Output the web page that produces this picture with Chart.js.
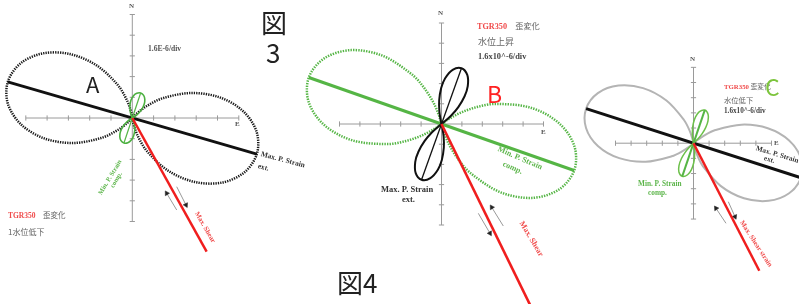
<!DOCTYPE html>
<html><head><meta charset="utf-8">
<script src="https://cdn.jsdelivr.net/npm/chart.js@4.4.1/dist/chart.umd.min.js"></script>
<style>
html,body{margin:0;padding:0;background:#fff;}
#wrap{position:relative;width:799px;height:304px;overflow:hidden;background:#fff;}
canvas{position:absolute;left:0;top:0;}
.t{position:absolute;white-space:nowrap;line-height:1;}
.s{font-family:"Liberation Serif","DejaVu Serif",serif;font-weight:bold;color:#555;}
.r{color:#f04a4a;}
.g{color:#5cb54a;}
.d{color:#333;}
.k{font-family:"Noto Sans CJK JP",sans-serif;color:#666;}
.big{font-family:"Noto Sans CJK JP","Noto Sans",sans-serif;color:#222;}
.rot{transform-origin:0 50%;}
</style></head>
<body><div id="wrap">
<canvas id="cA" width="799" height="304"></canvas>
<canvas id="cB" width="799" height="304"></canvas>
<canvas id="cC" width="799" height="304"></canvas>

<!-- Panel A texts -->
<div class="t s" style="left:129px;top:3px;font-size:7px;">N</div>
<div class="t s" style="left:235px;top:121px;font-size:7px;">E</div>
<div class="t s" style="left:148px;top:45px;font-size:7.6px;">1.6E-6/div</div>
<div class="t big" style="left:86px;top:72px;font-size:22px;">A</div>
<div class="t big" style="left:261px;top:8.5px;font-size:26px;">図</div>
<div class="t big" style="left:266px;top:39px;font-size:26px;">3</div>
<div class="t s r" style="left:8px;top:211px;font-size:7.5px;">TGR350<span class="k r" style="font-weight:normal;">　歪変化</span></div>
<div class="t k" style="left:8px;top:228px;font-size:8px;">1水位低下</div>
<div class="t s d rot" style="left:261px;top:150px;font-size:7.4px;transform:rotate(15deg);">Max. P. Strain</div>
<div class="t s d rot" style="left:258px;top:162px;font-size:7.4px;transform:rotate(15deg);">ext.</div>
<div class="t s g rot" style="left:100px;top:191px;font-size:6.6px;transform:rotate(-59deg);">Min. P. Strain</div>
<div class="t s g rot" style="left:112px;top:184px;font-size:6.6px;transform:rotate(-59deg);">comp.</div>
<div class="t s r rot" style="left:196px;top:209px;font-size:7px;transform:rotate(60deg);">Max. Shear</div>

<!-- Panel B texts -->
<div class="t s" style="left:438px;top:10px;font-size:7px;">N</div>
<div class="t s" style="left:541px;top:129px;font-size:7px;">E</div>
<div class="t s r" style="left:477px;top:21px;font-size:8.2px;">TGR350<span class="k r" style="font-weight:normal;">　歪変化</span></div>
<div class="t k" style="left:478px;top:37px;font-size:9px;">水位上昇</div>
<div class="t s" style="left:478px;top:53px;font-size:8.4px;color:#444;">1.6x10^-6/div</div>
<div class="t big" style="left:487px;top:81.5px;font-size:23px;color:#f22;">B</div>
<div class="t big" style="left:337px;top:268.5px;font-size:26px;">図4</div>
<div class="t s d" style="left:381px;top:185px;font-size:8.5px;">Max. P. Strain</div>
<div class="t s d" style="left:402px;top:195px;font-size:8.5px;">ext.</div>
<div class="t s g rot" style="left:498px;top:145px;font-size:8px;transform:rotate(23deg);">Min. P. Strain</div>
<div class="t s g rot" style="left:503px;top:160px;font-size:8px;transform:rotate(23deg);">comp.</div>
<div class="t s r rot" style="left:521px;top:218px;font-size:8px;transform:rotate(59deg);">Max. Shear</div>

<!-- Panel C texts -->
<div class="t s" style="left:690px;top:56px;font-size:7px;">N</div>
<div class="t s" style="left:774px;top:140px;font-size:7px;">E</div>
<div class="t s r" style="left:724px;top:83px;font-size:6.8px;">TGR350<span class="k r" style="font-weight:normal;"> 歪変化</span></div>
<div class="t big" style="left:765px;top:75px;font-size:23px;color:#7cc43c;">C</div>
<div class="t k" style="left:724px;top:97px;font-size:7.3px;">水位低下</div>
<div class="t s" style="left:724px;top:108px;font-size:7.2px;color:#444;">1.6x10^-6/div</div>
<div class="t s d rot" style="left:756px;top:145px;font-size:7.2px;transform:rotate(17deg);">Max. P. Strain</div>
<div class="t s d rot" style="left:764px;top:155px;font-size:7.2px;transform:rotate(17deg);">ext.</div>
<div class="t s g" style="left:638px;top:180px;font-size:7.3px;">Min. P. Strain</div>
<div class="t s g" style="left:648px;top:189px;font-size:7.3px;">comp.</div>
<div class="t s r rot" style="left:741px;top:218px;font-size:7px;transform:rotate(57deg);">Max. Shear strain</div>
</div>

<script>
// ---- shared tick positions (divisions) ----
const divTicks = [-5,-4,-3,-2,-1,0,1,2,3,4,5];

// ---- Panel A (units: divisions of 1.6E-6) ----
const aExtLobe1 = [[0,0],[0.065,-0.324],[0.252,-0.859],[0.697,-1.612],[1.675,-2.540],[2.920,-3.088],[4.201,-3.121],[5.255,-2.631],[5.846,-1.743],[5.838,-0.676],[5.224,0.310],[4.135,0.985],[2.793,1.208],[1.467,0.967],[0.681,0.581],[0.232,0.236],[0,0]];
const aExtLobe2 = [[0,0],[-0.065,0.324],[-0.252,0.859],[-0.697,1.612],[-1.675,2.540],[-2.920,3.088],[-4.201,3.121],[-5.255,2.631],[-5.846,1.743],[-5.838,0.676],[-5.224,-0.310],[-4.135,-0.985],[-2.793,-1.208],[-1.467,-0.967],[-0.681,-0.581],[-0.232,-0.236],[0,0]];
const aCompLobe1 = [[0,0],[0.112,0.072],[0.260,0.196],[0.436,0.406],[0.558,0.665],[0.587,0.904],[0.532,1.091],[0.392,1.208],[0.211,1.195],[0.056,1.076],[-0.060,0.866],[-0.114,0.585],[-0.095,0.312],[-0.048,0.124],[0,0]];
const aCompLobe2 = [[0,0],[-0.112,-0.072],[-0.260,-0.196],[-0.436,-0.406],[-0.558,-0.665],[-0.587,-0.904],[-0.532,-1.091],[-0.392,-1.208],[-0.211,-1.195],[-0.056,-1.076],[0.060,-0.866],[0.114,-0.585],[0.095,-0.312],[0.048,-0.124],[0,0]];
const aExtAxis = [[-5.85,1.745],[5.85,-1.745]];
const aCompAxis = [[-0.392,-1.208],[0.392,1.208]];
const aShear = [[0,0],[3.49,-6.46]];
const aArrow1 = [[2.085,-4.444],[1.615,-3.638]];
const aArrow2 = [[2.085,-3.319],[2.521,-4.203]];

// ---- Panel B ----
const bExtLobe1 = [[0,0],[0.133,0.106],[0.465,0.410],[0.824,0.838],[1.132,1.374],[1.287,1.873],[1.264,2.429],[0.978,2.762],[0.546,2.684],[0.179,2.265],[-0.016,1.780],[-0.113,1.170],[-0.103,0.611],[-0.037,0.166],[0,0]];
const bExtLobe2 = [[0,0],[-0.133,-0.106],[-0.465,-0.410],[-0.824,-0.838],[-1.132,-1.374],[-1.287,-1.873],[-1.264,-2.429],[-0.978,-2.762],[-0.546,-2.684],[-0.179,-2.265],[0.016,-1.780],[0.113,-1.170],[0.103,-0.611],[0.037,-0.166],[0,0]];
const bCompLobe1 = [[0,0],[0.133,-0.447],[0.397,-1.060],[0.855,-1.792],[1.440,-2.445],[2.885,-3.378],[4.436,-3.658],[5.747,-3.251],[6.504,-2.303],[6.512,-1.090],[5.750,0.051],[4.368,0.809],[2.658,0.994],[1.792,0.855],[0.976,0.574],[0.384,0.264],[0,0]];
const bCompLobe2 = [[0,0],[-0.133,0.447],[-0.397,1.060],[-0.855,1.792],[-1.440,2.445],[-2.885,3.378],[-4.436,3.658],[-5.747,3.251],[-6.504,2.303],[-6.512,1.090],[-5.750,-0.051],[-4.368,-0.809],[-2.658,-0.994],[-1.792,-0.855],[-0.976,-0.574],[-0.384,-0.264],[0,0]];
const bCompAxis = [[-6.504,2.303],[6.504,-2.303]];
const bExtAxis = [[-0.978,-2.762],[0.978,2.762]];
const bShear = [[0,0],[4.34,-8.95]];
const bArrow1 = [[3.029,-5.050],[2.461,-4.124]];
const bArrow2 = [[1.804,-4.421],[2.377,-5.411]];

// ---- Panel C ----
const cExtLobe1 = [[0,0],[0.051,-0.228],[0.242,-0.807],[0.609,-1.529],[1.736,-2.811],[3.235,-3.630],[4.813,-3.800],[6.130,-3.301],[6.883,-2.277],[6.889,-1.005],[6.130,0.181],[4.761,0.986],[3.070,1.222],[1.401,0.865],[0.675,0.503],[0.177,0.152],[0,0]];
const cExtLobe2 = [[0,0],[-0.051,0.228],[-0.242,0.807],[-0.609,1.529],[-1.736,2.811],[-3.235,3.630],[-4.813,3.800],[-6.130,3.301],[-6.883,2.277],[-6.889,1.005],[-6.130,-0.181],[-4.761,-0.986],[-3.070,-1.222],[-1.401,-0.865],[-0.675,-0.503],[-0.177,-0.152],[0,0]];
const cCompLobe1 = [[0,0],[0.281,0.283],[0.556,0.633],[0.780,1.025],[0.930,1.471],[0.937,1.896],[0.722,2.184],[0.378,2.080],[0.131,1.736],[-0.015,1.288],[-0.069,0.839],[-0.057,0.395],[0,0]];
const cCompLobe2 = [[0,0],[-0.281,-0.283],[-0.556,-0.633],[-0.780,-1.025],[-0.930,-1.471],[-0.937,-1.896],[-0.722,-2.184],[-0.378,-2.080],[-0.131,-1.736],[0.015,-1.288],[0.069,-0.839],[0.057,-0.395],[0,0]];
const cExtAxis = [[-6.883,2.277],[6.883,-2.277]];
const cCompAxis = [[-0.722,-2.184],[0.722,2.184]];
const cShear = [[0,0],[4.218,-8.405]];
const cArrow1 = [[2.083,-5.280],[1.442,-4.291]];
const cArrow2 = [[2.231,-3.856],[2.660,-4.845]];

// ---- helpers ----
const W = 799, H = 304;
const pts = a => a.map(p => ({x: p[0], y: p[1]}));
function curve(a, color, width, dash, tension) {
  return {data: pts(a), showLine: true, borderColor: color, borderWidth: width,
    borderDash: dash || [], borderCapStyle: 'butt', pointRadius: 0, pointHitRadius: 0,
    tension: tension === undefined ? 0.33 : tension, fill: false};
}
function axisH(color) {
  return {data: divTicks.map(t => ({x: t, y: 0})), showLine: true, borderColor: color, borderWidth: 1,
    pointStyle: 'line', pointRadius: 2.6, rotation: 90, pointBorderColor: color, pointBorderWidth: 1, tension: 0};
}
function axisV(color) {
  return {data: divTicks.map(t => ({x: 0, y: t})), showLine: true, borderColor: color, borderWidth: 1,
    pointStyle: 'line', pointRadius: 2.6, rotation: 0, pointBorderColor: color, pointBorderWidth: 1, tension: 0};
}
function arrow(a, color, head) {
  return {data: pts(a), showLine: true, borderColor: color, borderWidth: 1, tension: 0,
    pointStyle: 'triangle', pointRadius: [0, 2.8], pointBackgroundColor: head, pointBorderColor: head, pointBorderWidth: 0.5,
    rotation: ctx => {
      const ch = ctx.chart, xs = ch.scales.x, ys = ch.scales.y, d = ctx.dataset.data;
      if (!xs || !ys) return 0;
      const dx = xs.getPixelForValue(d[1].x) - xs.getPixelForValue(d[0].x);
      const dy = ys.getPixelForValue(d[1].y) - ys.getPixelForValue(d[0].y);
      return Math.atan2(dx, -dy) * 180 / Math.PI;
    }};
}
function makeChart(id, f, bottomToTop) {
  return new Chart(document.getElementById(id), {
    type: 'scatter',
    data: {datasets: bottomToTop.slice().reverse()},
    options: {
      responsive: false, animation: false, devicePixelRatio: 1, events: [],
      layout: {padding: 0, autoPadding: false},
      plugins: {legend: {display: false}, tooltip: {enabled: false}, title: {display: false}},
      scales: {
        x: {type: 'linear', display: false, min: -f.cx / f.px, max: (W - f.cx) / f.px},
        y: {type: 'linear', display: false, min: -(H - f.cy) / f.py, max: f.cy / f.py}
      }
    }
  });
}

const axisGray = '#9a9a9a';
const red = '#f01e1e';
const green = '#55b545';

makeChart('cA', {cx: 132.3, cy: 118, px: 21.3, py: 20.7}, [
  axisH(axisGray), axisV(axisGray),
  curve(aExtLobe1, '#1a1a1a', 2.5, [1.3, 1.1]),
  curve(aExtLobe2, '#1a1a1a', 2.5, [1.3, 1.1]),
  arrow(aArrow1, '#999', '#222'),
  arrow(aArrow2, '#999', '#222'),
  curve(aExtAxis, '#111', 2.8, [], 0),
  curve(aCompLobe1, '#4cb040', 1.6),
  curve(aCompLobe2, '#4cb040', 1.6),
  curve(aCompAxis, green, 1.2, [], 0),
  curve(aShear, red, 2.5, [], 0)
]);

makeChart('cB', {cx: 441.5, cy: 124, px: 20.4, py: 20.2}, [
  axisH(axisGray), axisV(axisGray),
  curve(bCompLobe1, green, 2.5, [1.4, 1.2]),
  curve(bCompLobe2, green, 2.5, [1.4, 1.2]),
  arrow(bArrow1, '#999', '#222'),
  arrow(bArrow2, '#999', '#222'),
  curve(bCompAxis, green, 3, [], 0),
  curve(bExtLobe1, '#111', 2),
  curve(bExtLobe2, '#111', 2),
  curve(bExtAxis, '#111', 1.3, [], 0),
  curve(bShear, red, 2.6, [], 0)
]);

makeChart('cC', {cx: 693.5, cy: 143.2, px: 15.6, py: 15.17}, [
  axisH(axisGray), axisV(axisGray),
  curve(cExtLobe1, '#b4b4b4', 2),
  curve(cExtLobe2, '#b4b4b4', 2),
  arrow(cArrow1, '#999', '#222'),
  arrow(cArrow2, '#999', '#222'),
  curve(cExtAxis, '#111', 3, [], 0),
  curve(cCompLobe1, '#6cc04a', 1.5),
  curve(cCompLobe2, '#6cc04a', 1.5),
  curve(cCompAxis, green, 2, [], 0),
  curve(cShear, red, 2.5, [], 0)
]);
</script>
</body></html>
